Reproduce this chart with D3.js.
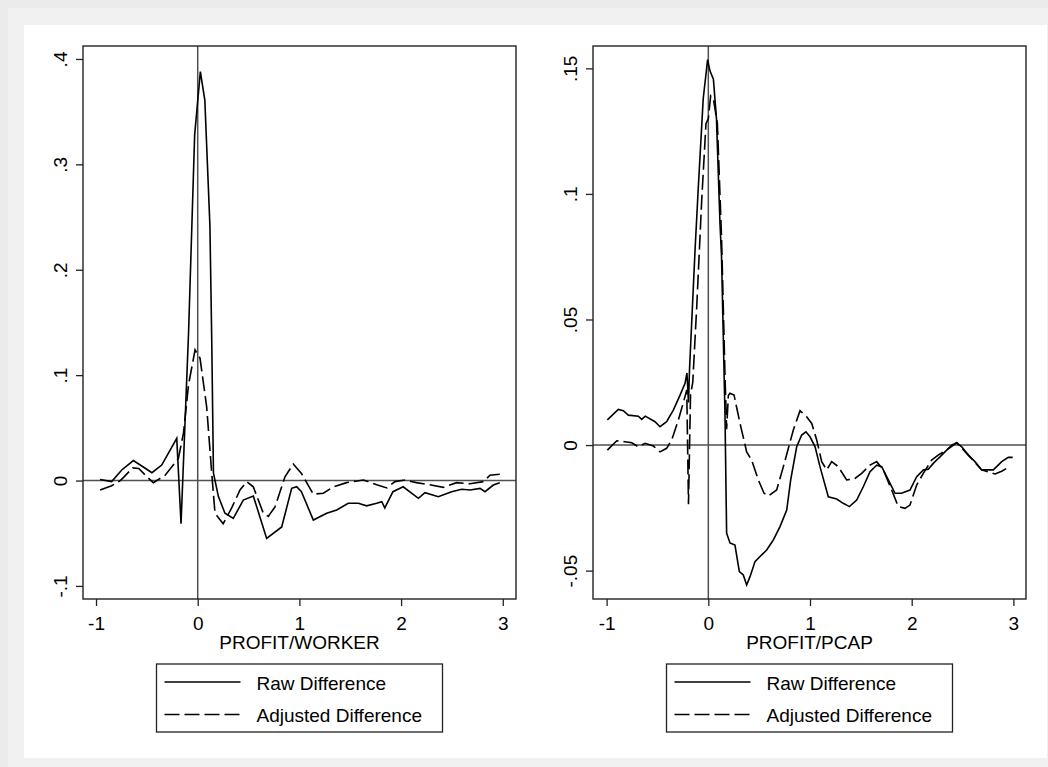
<!DOCTYPE html>
<html>
<head>
<meta charset="utf-8">
<script src="https://cdn.jsdelivr.net/npm/d3@7"></script>
<style>
  body { margin: 0; background: #ebebeb; }
  text { font-family: 'Liberation Sans', Arial, sans-serif; fill: #000; }
</style>
</head>
<body>
<div id="grafica"></div>
<script>
// Datos: PROFIT/WORKER
workerRawX = [-0.96, -0.846, -0.747, -0.633, -0.55, -0.45, -0.354, -0.206, -0.164, -0.09, -0.03, 0.026, 0.07, 0.12, 0.138, 0.155,
  0.203, 0.268, 0.35, 0.448, 0.547, 0.678, 0.826, 0.924, 0.973, 1.02, 1.137, 1.268, 1.367, 1.48, 1.58, 1.66, 1.76, 1.81, 1.84,
  1.92, 2.02, 2.17, 2.235, 2.366, 2.497, 2.596, 2.68, 2.776, 2.825, 2.907, 2.97]
workerRawY = [0.001, -0.001, 0.010, 0.019, 0.0138, 0.0074, 0.0147, 0.040, -0.041, 0.14, 0.328, 0.388, 0.361, 0.242, 0.133, 0.007,
  -0.015, -0.031, -0.036, -0.0185, -0.0147, -0.055, -0.044, -0.0074, -0.0059, -0.0106, -0.0375, -0.031, -0.028, -0.0216, -0.0216, -0.024, -0.0216, -0.020, -0.026,
  -0.0106, -0.0059, -0.0169, -0.0116, -0.0154, -0.0106, -0.0083, -0.009, -0.0074, -0.0106, -0.0043, -0.002]
workerAdjX = [-0.96, -0.846, -0.76, -0.64, -0.58, -0.50, -0.437, -0.32, -0.19, -0.14, -0.09, -0.026, 0.023, 0.088, 0.138, 0.17,
  0.25, 0.334, 0.416, 0.482, 0.547, 0.645, 0.694, 0.76, 0.858, 0.94, 1.02, 1.137, 1.235, 1.333, 1.465, 1.63, 1.76, 1.86, 1.94,
  2.04, 2.15, 2.28, 2.415, 2.546, 2.678, 2.81, 2.874, 2.97]
workerAdjY = [-0.009, -0.005, 0.0, 0.012, 0.0115, 0.0036, -0.002, 0.005, 0.021, 0.045, 0.091, 0.124, 0.116, 0.070, 0.007, -0.031,
  -0.041, -0.026, -0.009, -0.001, -0.006, -0.031, -0.034, -0.025, 0.0036, 0.0157, 0.0068, -0.013, -0.012, -0.006, -0.002, 0.0005, -0.004, -0.007, -0.001,
  0.0005, -0.002, -0.004, -0.0065, -0.002, -0.003, -0.001, 0.005, 0.006]

// Datos: PROFIT/PCAP
pcapRawX = [-0.993, -0.885, -0.836, -0.787, -0.688, -0.655, -0.62, -0.524, -0.475, -0.41, -0.344, -0.278, -0.229, -0.21, -0.195, -0.185,
  -0.13, -0.098, -0.05, -0.007, 0.016, 0.05, 0.08, 0.115, 0.13, 0.164, 0.18, 0.213, 0.262, 0.305, 0.344, 0.377, 0.41, 0.459, 0.525,
  0.574, 0.639, 0.705, 0.771, 0.81, 0.869, 0.918, 0.96, 1.0, 1.05, 1.098, 1.18, 1.262, 1.327, 1.387, 1.459, 1.524, 1.59, 1.656,
  1.705, 1.77, 1.836, 1.9, 1.983, 2.049, 2.114, 2.163, 2.212, 2.278, 2.344, 2.393, 2.442, 2.492, 2.557, 2.622, 2.688, 2.803, 2.885, 2.95, 2.993]
pcapRawY = [0.0100, 0.0142, 0.0137, 0.0119, 0.0115, 0.0102, 0.0115, 0.0093, 0.0073, 0.0093, 0.0139, 0.0199, 0.0246, 0.0287, 0.017, 0.030,
  0.078, 0.103, 0.138, 0.1535, 0.149, 0.1457, 0.130, 0.088, 0.075, 0.012, -0.0351, -0.039, -0.0398, -0.0504, -0.0517, -0.0557, -0.0524, -0.0464, -0.0437,
  -0.0418, -0.0378, -0.0325, -0.0259, -0.0139, -0.0007, 0.004, 0.0053, 0.0033, -0.0007, -0.0086, -0.0206, -0.0215, -0.0232, -0.0245, -0.0219, -0.0166, -0.0106, -0.008,
  -0.0086, -0.0139, -0.0192, -0.0192, -0.0179, -0.0126, -0.0099, -0.0096, -0.0073, -0.0047, -0.002, 0.0, 0.0009, -0.0007, -0.004, -0.0066, -0.0099, -0.0099, -0.0066, -0.0049, -0.0049]
pcapAdjX = [-0.993, -0.9, -0.82, -0.753, -0.688, -0.622, -0.54, -0.475, -0.41, -0.36, -0.295, -0.239, -0.212, -0.195, -0.175, -0.153,
  -0.114, -0.065, -0.023, 0.0, 0.023, 0.05, 0.089, 0.13, 0.164, 0.18, 0.197, 0.213, 0.253, 0.312, 0.377, 0.426, 0.492, 0.548, 0.59,
  0.672, 0.738, 0.836, 0.902, 0.967, 1.017, 1.066, 1.115, 1.164, 1.213, 1.278, 1.36, 1.442, 1.508, 1.59, 1.656, 1.721, 1.803,
  1.868, 1.934, 1.983, 2.049, 2.114, 2.196, 2.26, 2.344, 2.442, 2.557, 2.688, 2.82, 2.885, 2.95]
pcapAdjY = [-0.002, 0.0017, 0.0013, 0.0009, -0.0007, 0.0007, -0.0004, -0.0027, -0.0013, 0.002, 0.0099, 0.0179, 0.0219, -0.0236, 0.020, 0.025,
  0.055, 0.0975, 0.128, 0.130, 0.139, 0.1378, 0.128, 0.0827, 0.0276, 0.0063, 0.0197, 0.0206, 0.0199, 0.0086, -0.0027, -0.006, -0.0139, -0.0192, -0.0203,
  -0.0179, -0.0086, 0.006, 0.0137, 0.0113, 0.0086, 0.002, -0.0066, -0.0099, -0.0066, -0.0086, -0.0139, -0.0133, -0.0113, -0.008, -0.0066, -0.0099, -0.0179,
  -0.0245, -0.0252, -0.0239, -0.0159, -0.0113, -0.006, -0.004, -0.002, 0.0009, -0.004, -0.0099, -0.0115, -0.0104, -0.0089]

// Ejes y etiquetas
xTicks = [-1, 0, 1, 2, 3]
xTickLabels = ['-1', '0', '1', '2', '3']
workerYTicks = [-0.1, 0, 0.1, 0.2, 0.3, 0.4]
workerYLabels = ['-.1', '0', '.1', '.2', '.3', '.4']
pcapYTicks = [-0.05, 0, 0.05, 0.1, 0.15]
pcapYLabels = ['-.05', '0', '.05', '.1', '.15']
seriesNames = ['Raw Difference', 'Adjusted Difference']

ancho_total = 1048
alto_total = 767

svg = d3.select('#grafica')
  .append('svg')
  .attr('width', ancho_total)
  .attr('height', alto_total)
  .style('display', 'block')

// fondo en dos tonos + region blanca
svg.append('rect').attr('x', 0).attr('y', 0).attr('width', ancho_total).attr('height', alto_total).attr('fill', '#ebebeb')
svg.append('rect').attr('x', 8).attr('y', 8).attr('width', ancho_total - 8).attr('height', alto_total - 8).attr('fill', '#f1f1f1')
svg.append('rect').attr('x', 24).attr('y', 25).attr('width', 1023).attr('height', 733).attr('fill', '#ffffff')

function panel(cfg) {
  x = d3.scaleLinear().domain(cfg.xDomain).range([cfg.left, cfg.left + 433])
  y = d3.scaleLinear().domain(cfg.yDomain).range([599, 46])

  g = svg.append('g')

  // lineas de referencia en 0
  g.append('line')
    .attr('x1', x.range()[0]).attr('x2', x.range()[1])
    .attr('y1', y(0)).attr('y2', y(0))
    .attr('stroke', '#505050').attr('stroke-width', 1.5)
  g.append('line')
    .attr('x1', x(0)).attr('x2', x(0))
    .attr('y1', 46).attr('y2', 599)
    .attr('stroke', '#505050').attr('stroke-width', 1.5)

  line = d3.line().x((d) => x(d[0])).y((d) => y(d[1]))

  raw = cfg.rawX.map((v, i) => [v, cfg.rawY[i]])
  adj = cfg.adjX.map((v, i) => [v, cfg.adjY[i]])

  g.append('path').datum(adj).attr('d', line)
    .attr('fill', 'none').attr('stroke', '#000').attr('stroke-width', 1.6)
    .attr('stroke-dasharray', '15,5')
  g.append('path').datum(raw).attr('d', line)
    .attr('fill', 'none').attr('stroke', '#000').attr('stroke-width', 1.6)

  // marco
  g.append('rect')
    .attr('x', cfg.left).attr('y', 46).attr('width', 433).attr('height', 553)
    .attr('fill', 'none').attr('stroke', '#222').attr('stroke-width', 1.4)

  // eje X
  xAxisCall = d3.axisBottom(x).tickValues(xTicks).tickSize(7)
    .tickFormat((d, i) => xTickLabels[i])
  xg = g.append('g').attr('transform', 'translate(0,599)').call(xAxisCall)
  xg.select('.domain').remove()
  xg.selectAll('line').attr('stroke', '#222').attr('stroke-width', 1.3)
  xg.selectAll('text').attr('font-size', '19px').attr('dy', null).attr('y', 31)
    .attr('font-family', "'Liberation Sans', Arial, sans-serif").attr('fill', '#000')

  // eje Y
  yAxisCall = d3.axisLeft(y).tickValues(cfg.yTicks).tickSize(7)
    .tickFormat((d, i) => cfg.yLabels[i])
  yg = g.append('g').attr('transform', `translate(${cfg.left},0)`).call(yAxisCall)
  yg.select('.domain').remove()
  yg.selectAll('line').attr('stroke', '#222').attr('stroke-width', 1.3)
  yg.selectAll('text')
    .attr('font-size', '19px').attr('font-family', "'Liberation Sans', Arial, sans-serif").attr('fill', '#000')
    .attr('text-anchor', 'middle').attr('dy', null).attr('x', 0).attr('y', -16)
    .attr('transform', 'rotate(-90)')

  // titulo del eje
  cx = cfg.left + 433 / 2
  g.append('text').attr('x', cx).attr('y', 649)
    .attr('text-anchor', 'middle').attr('font-size', '19px')
    .text(cfg.title)

  // leyenda
  lx = cx - 143
  g.append('rect').attr('x', lx).attr('y', 664).attr('width', 286).attr('height', 68)
    .attr('fill', '#fff').attr('stroke', '#222').attr('stroke-width', 1.3)
  rows = [682, 714.5]
  seriesNames.forEach((name, i) => {
    g.append('line')
      .attr('x1', lx + 8).attr('x2', lx + 84)
      .attr('y1', rows[i]).attr('y2', rows[i])
      .attr('stroke', '#000').attr('stroke-width', 1.6)
      .attr('stroke-dasharray', i == 1 ? '15,5' : null)
    g.append('text').attr('x', lx + 100).attr('y', rows[i] + 7.5)
      .attr('font-size', '19px').text(name)
  })
}

panel({
  left: 83, xDomain: [-1.128, 3.13], yDomain: [-0.1124, 0.4123],
  rawX: workerRawX, rawY: workerRawY, adjX: workerAdjX, adjY: workerAdjY,
  yTicks: workerYTicks, yLabels: workerYLabels, title: 'PROFIT/WORKER'
})
panel({
  left: 593, xDomain: [-1.134, 3.124], yDomain: [-0.0613, 0.1589],
  rawX: pcapRawX, rawY: pcapRawY, adjX: pcapAdjX, adjY: pcapAdjY,
  yTicks: pcapYTicks, yLabels: pcapYLabels, title: 'PROFIT/PCAP'
})
</script>
</body>
</html>
